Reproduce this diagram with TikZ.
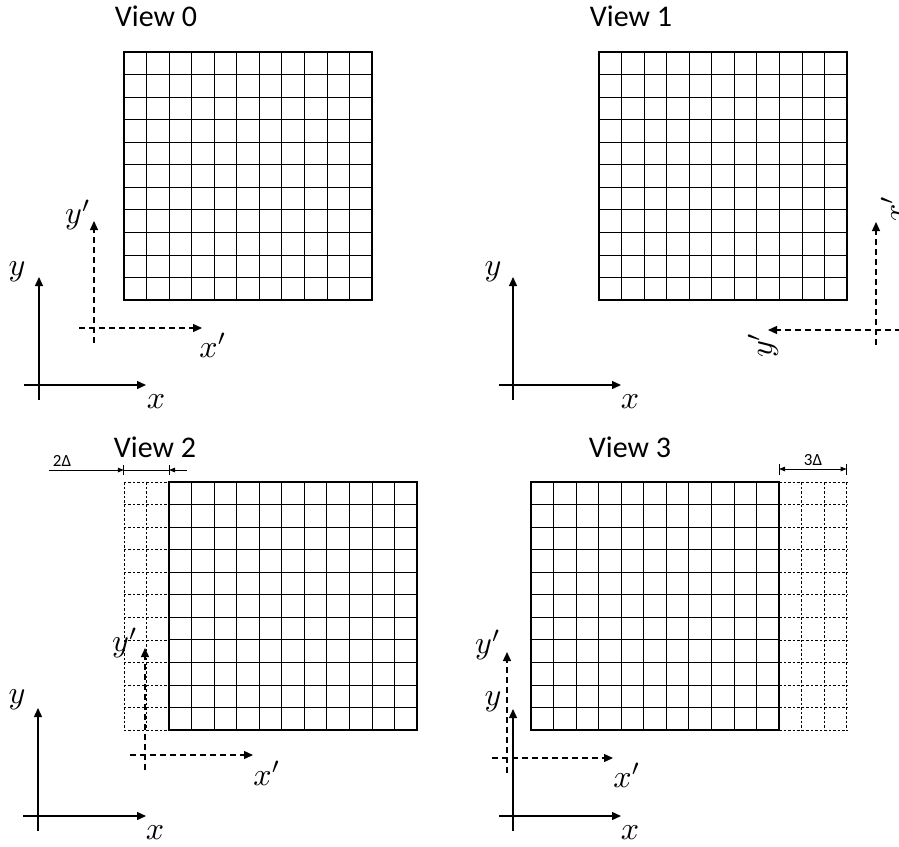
\documentclass[tikz,border=0pt]{standalone}
\usepackage{fontspec}
\setmainfont{Carlito}
\usetikzlibrary{arrows.meta}
\tikzset{
 cell/.style={line width=0.8pt},
 border/.style={line width=1.6pt},
 ghost/.style={line width=0.6pt, dash pattern=on 2.5pt off 2pt},
 axis/.style={line width=1.4pt, -{Triangle[length=9pt,width=8pt]}},
 daxis/.style={line width=1.3pt, dash pattern=on 6pt off 4pt, -{Triangle[length=9pt,width=8pt]}},
 title/.style={font=\fontsize{30}{32}\selectfont, inner sep=0pt},
 lab/.style={font=\fontsize{10}{12}\selectfont, inner sep=0pt, scale=3.2},
 dim/.style={line width=0.9pt},
 dimtip/.style={line width=0.9pt, -{Triangle[length=6pt,width=4.5pt]}},
 dimlab/.style={font=\fontsize{17}{19}\selectfont, inner sep=0pt},
}
\newcommand\cellgrid[2]{%
  \foreach \i in {1,...,10}{
    \draw[cell] ({#1+\i*248/11},#2) -- ++(0,248);
    \draw[cell] (#1,{#2+\i*248/11}) -- ++(248,0);
  }
  \draw[border] (#1,#2) rectangle ++(248,248);
}
\begin{document}
\begin{tikzpicture}[x=1pt,y=-1pt]
\useasboundingbox (0,0) rectangle (899,846);

% ---------- View 0 ----------
\node[title] (t0) at (156,16) {View 0};
\cellgrid{124}{52}
\coordinate (a0h1) at (24,385); \coordinate (a0h2) at (146,385);
\coordinate (a0v1) at (39,400); \coordinate (a0v2) at (39,277);
\draw[axis] (a0h1) -- (a0h2);
\draw[axis] (a0v1) -- (a0v2);
\node[lab] (x0) at (156,402) {$x$};
\node[lab] (y0) at (17,272) {$y$};
\coordinate (d0h1) at (79,328); \coordinate (d0h2) at (202,328);
\coordinate (d0v1) at (94,343); \coordinate (d0v2) at (94,221);
\draw[daxis] (d0h1) -- (d0h2);
\draw[daxis] (d0v1) -- (d0v2);
\node[lab] (xp0) at (213,345) {$x'$};
\node[lab] (yp0) at (78,215) {$y'$};

% ---------- View 1 ----------
\node[title] (t1) at (631,16) {View 1};
\cellgrid{599}{52}
\coordinate (a1h1) at (499,385); \coordinate (a1h2) at (621,385);
\coordinate (a1v1) at (513,400); \coordinate (a1v2) at (513,277);
\draw[axis] (a1h1) -- (a1h2);
\draw[axis] (a1v1) -- (a1v2);
\node[lab] (x1) at (630,402) {$x$};
\node[lab] (y1) at (493,272) {$y$};
\coordinate (d1h1) at (901,330); \coordinate (d1h2) at (768,330);
\coordinate (d1v1) at (876,345); \coordinate (d1v2) at (876,222);
\draw[daxis] (d1h1) -- (d1h2);
\draw[daxis] (d1v1) -- (d1v2);
\node[lab, rotate=90] (xp1) at (893,209) {$x'$};
\node[lab, rotate=90] (yp1) at (763,345) {$y'$};

% ---------- View 2 ----------
\node[title] (t2) at (155,447) {View 2};
\foreach \k in {0,...,11}{
  \draw[ghost] ({169-2*248/11},{482+\k*248/11}) -- (169,{482+\k*248/11});
}
\foreach \k in {1,2}{
  \draw[ghost] ({169-\k*248/11},482) -- ({169-\k*248/11},730);
}
\cellgrid{169}{482}
\coordinate (m2a) at ({169-2*248/11},470); \coordinate (m2b) at (169,470);
\coordinate (m2l) at (49,470); \coordinate (m2r) at (187,470);
\draw[dim] ({169-2*248/11},465) -- ({169-2*248/11},475);
\draw[dim] (169,465) -- (169,475);
\draw[dimtip] (m2l) -- (m2a);
\draw[dim] (m2a) -- (m2b);
\draw[dimtip] (m2r) -- (m2b);
\node[dimlab] (l2) at (62,461) {2Δ};
\coordinate (a2h1) at (23,816); \coordinate (a2h2) at (146,816);
\coordinate (a2v1) at (38,831); \coordinate (a2v2) at (38,708);
\draw[axis] (a2h1) -- (a2h2);
\draw[axis] (a2v1) -- (a2v2);
\node[lab] (x2) at (155,833) {$x$};
\node[lab] (y2) at (17,700) {$y$};
\coordinate (d2h1) at (130,755); \coordinate (d2h2) at (253,755);
\coordinate (d2v1) at (145,770); \coordinate (d2v2) at (145,648);
\draw[daxis] (d2h1) -- (d2h2);
\draw[daxis] (d2v1) -- (d2v2);
\node[lab] (xp2) at (267,773) {$x'$};
\node[lab] (yp2) at (125,643) {$y'$};

% ---------- View 3 ----------
\node[title] (t3) at (630,447) {View 3};
\foreach \k in {0,...,11}{
  \draw[ghost] (779,{482+\k*248/11}) -- ({779+3*248/11},{482+\k*248/11});
}
\foreach \k in {1,2,3}{
  \draw[ghost] ({779+\k*248/11},482) -- ({779+\k*248/11},730);
}
\cellgrid{531}{482}
\coordinate (m3a) at (779,469); \coordinate (m3b) at ({779+3*248/11},469);
\draw[dim] (779,464) -- (779,475);
\draw[dim] ({779+3*248/11},464) -- ({779+3*248/11},475);
\draw[dim, {Triangle[length=6pt,width=4.5pt]}-{Triangle[length=6pt,width=4.5pt]}] (m3a) -- (m3b);
\node[dimlab] (l3) at (813,460) {3Δ};
\coordinate (a3h1) at (499,816); \coordinate (a3h2) at (621,816);
\coordinate (a3v1) at (513,831); \coordinate (a3v2) at (513,709);
\draw[axis] (a3h1) -- (a3h2);
\draw[axis] (a3v1) -- (a3v2);
\node[lab] (x3) at (630,833) {$x$};
\node[lab] (y3) at (493,702) {$y$};
\coordinate (d3h1) at (492,758); \coordinate (d3h2) at (613,758);
\coordinate (d3v1) at (507,773); \coordinate (d3v2) at (507,652);
\draw[daxis] (d3h1) -- (d3h2);
\draw[daxis] (d3v1) -- (d3v2);
\node[lab] (xp3) at (627,775) {$x'$};
\node[lab] (yp3) at (488,645) {$y'$};
\end{tikzpicture}
\end{document}
